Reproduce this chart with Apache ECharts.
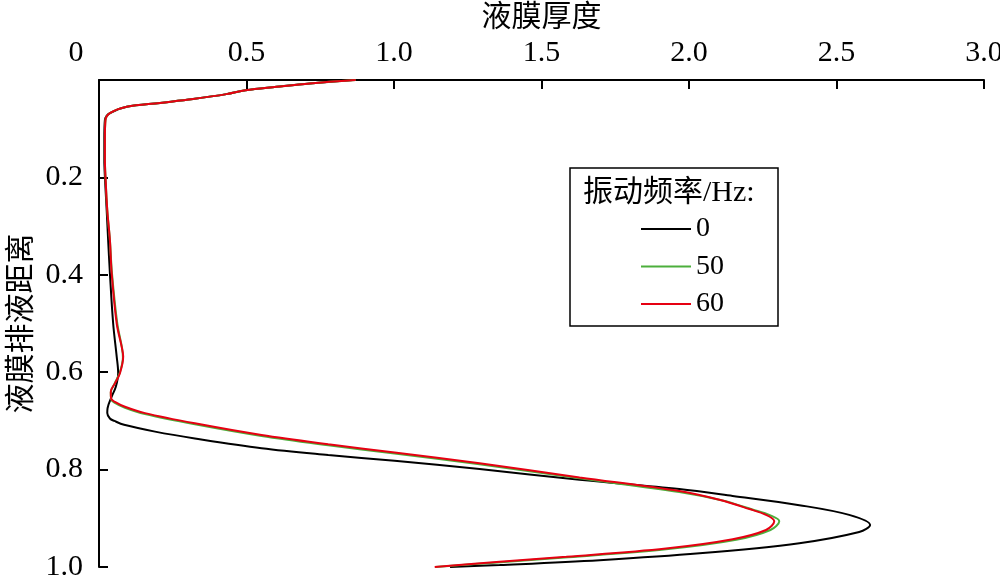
<!DOCTYPE html>
<html>
<head>
<meta charset="utf-8">
<script src="https://cdn.jsdelivr.net/npm/echarts@6/dist/echarts.min.js"></script>
<style>html,body{margin:0;padding:0;background:#fff;}#c{width:1000px;height:588px;}</style>
</head>
<body>
<div id="c"></div>
<script>
// Series names (vibration frequency, Hz)
const seriesNames = ['0', '50', '60'];
// Axis titles
const xTitle = '液膜厚度';
const yTitle = '液膜排液距离';
const legendTitle = '振动频率/Hz:';
const xTicks = [0, 0.5, 1.0, 1.5, 2.0, 2.5, 3.0];
const yTicks = [0, 0.2, 0.4, 0.6, 0.8, 1.0];

// 0 Hz: film drainage distance (y) and film thickness (x)
const dist0 = [0.000, 0.007, 0.014, 0.021, 0.029, 0.039, 0.047, 0.055, 0.068, 0.082, 0.120, 0.164, 0.199, 0.267, 0.329, 0.397, 0.500, 0.568, 0.602, 0.630, 0.650, 0.674, 0.684, 0.695, 0.700, 0.708, 0.722, 0.736, 0.756, 0.770, 0.782, 0.799, 0.821, 0.840, 0.854, 0.873, 0.893, 0.914, 0.928, 0.951, 0.972, 0.986, 0.996, 1.000];
const thick0 = [0.860, 0.715, 0.602, 0.497, 0.432, 0.319, 0.207, 0.094, 0.037, 0.020, 0.018, 0.018, 0.020, 0.026, 0.031, 0.037, 0.048, 0.060, 0.065, 0.057, 0.043, 0.029, 0.028, 0.037, 0.052, 0.085, 0.190, 0.325, 0.551, 0.777, 1.002, 1.290, 1.629, 1.967, 2.148, 2.374, 2.543, 2.614, 2.577, 2.374, 2.036, 1.697, 1.358, 1.190];

// 50 Hz
const dist50 = [0.000, 0.007, 0.014, 0.021, 0.029, 0.039, 0.047, 0.055, 0.068, 0.082, 0.120, 0.164, 0.199, 0.267, 0.329, 0.397, 0.500, 0.550, 0.570, 0.602, 0.623, 0.641, 0.655, 0.663, 0.673, 0.686, 0.707, 0.731, 0.750, 0.767, 0.789, 0.818, 0.846, 0.863, 0.882, 0.894, 0.906, 0.924, 0.944, 0.963, 0.980, 0.990, 1.000];
const thick50 = [0.870, 0.715, 0.602, 0.497, 0.432, 0.319, 0.207, 0.094, 0.037, 0.022, 0.020, 0.020, 0.022, 0.028, 0.037, 0.044, 0.062, 0.078, 0.081, 0.070, 0.053, 0.040, 0.041, 0.054, 0.088, 0.156, 0.325, 0.551, 0.777, 1.002, 1.290, 1.629, 1.967, 2.110, 2.215, 2.276, 2.306, 2.276, 2.160, 1.930, 1.590, 1.362, 1.140];

// 60 Hz
const dist60 = [0.000, 0.007, 0.014, 0.021, 0.029, 0.039, 0.047, 0.055, 0.068, 0.082, 0.120, 0.164, 0.199, 0.267, 0.329, 0.397, 0.500, 0.548, 0.568, 0.602, 0.623, 0.640, 0.654, 0.661, 0.671, 0.684, 0.705, 0.729, 0.748, 0.765, 0.787, 0.816, 0.844, 0.862, 0.881, 0.893, 0.906, 0.924, 0.943, 0.962, 0.979, 0.989, 1.000];
const thick60 = [0.870, 0.715, 0.602, 0.497, 0.432, 0.319, 0.207, 0.094, 0.037, 0.022, 0.020, 0.020, 0.022, 0.028, 0.037, 0.043, 0.060, 0.077, 0.082, 0.071, 0.054, 0.040, 0.041, 0.054, 0.088, 0.156, 0.325, 0.551, 0.777, 1.002, 1.290, 1.629, 1.967, 2.103, 2.205, 2.261, 2.289, 2.261, 2.148, 1.922, 1.584, 1.358, 1.138];

const colors = ['#000000', '#4caf3c', '#e60012'];
const SERIF = "'Liberation Serif','Times New Roman',serif";
const CJK = "'Liberation Serif','Noto Sans CJK SC',serif";

function pairs(xs, ys) { return xs.map((x, i) => [x, ys[i]]); }
const allData = [pairs(thick0, dist0), pairs(thick50, dist50), pairs(thick60, dist60)];

const chart = echarts.init(document.getElementById('c'), null, {renderer: 'canvas'});
const option = {
  animation: false,
  backgroundColor: '#ffffff',
  grid: {left: 99, right: 16, top: 80, bottom: 21, containLabel: false, outerBoundsMode: 'none'},
  xAxis: {
    type: 'value', position: 'top', min: xTicks[0], max: xTicks[xTicks.length - 1], interval: 0.5,
    name: xTitle, nameLocation: 'middle', nameGap: 44,
    nameTextStyle: {fontFamily: CJK, fontSize: 30, color: '#000'},
    axisLine: {show: true, onZero: false, lineStyle: {color: '#000', width: 2}},
    axisTick: {show: true, inside: true, length: 9, lineStyle: {color: '#000', width: 2}},
    axisLabel: {
      margin: 12, color: '#000', fontFamily: SERIF, fontSize: 30,
      formatter: v => v === 0 ? '{o|0}' : v.toFixed(1),
      rich: {o: {fontFamily: SERIF, fontSize: 30, color: '#000', padding: [0, 46, 0, 0]}}
    },
    splitLine: {show: false}
  },
  yAxis: {
    type: 'value', inverse: true, min: yTicks[0], max: yTicks[yTicks.length - 1], interval: 0.2,
    name: yTitle, nameLocation: 'middle', nameGap: 62, nameRotate: 90, nameMoveOverlap: false,
    nameTextStyle: {fontFamily: CJK, fontSize: 30, color: '#000'},
    axisLine: {show: true, onZero: false, lineStyle: {color: '#000', width: 2}},
    axisTick: {show: true, inside: true, length: 9, lineStyle: {color: '#000', width: 2}},
    axisLabel: {
      margin: 16, color: '#000', fontFamily: SERIF, fontSize: 30,
      formatter: v => v === 0 ? '' : v.toFixed(1)
    },
    splitLine: {show: false}
  },
  legend: {
    orient: 'vertical', left: 636, top: 210,
    itemWidth: 50, itemHeight: 2, itemGap: 9.5, icon: 'rect',
    data: seriesNames,
    textStyle: {fontFamily: SERIF, fontSize: 28, color: '#000'}
  },
  graphic: [
    {type: 'rect', shape: {x: 570, y: 168, width: 208, height: 158},
     style: {fill: 'none', stroke: '#000', lineWidth: 1.5}, z: 10},
    {type: 'text', left: 583, top: 178,
     style: {text: legendTitle, fontFamily: CJK, fontSize: 30, fill: '#000'}, z: 10}
  ],
  series: seriesNames.map((n, i) => ({
    name: n, type: 'line', data: allData[i], symbol: 'none', smooth: 0.35,
    lineStyle: {color: colors[i], width: 2}, itemStyle: {color: colors[i]},
    clip: false
  }))
};
chart.setOption(option);
</script>
</body>
</html>
